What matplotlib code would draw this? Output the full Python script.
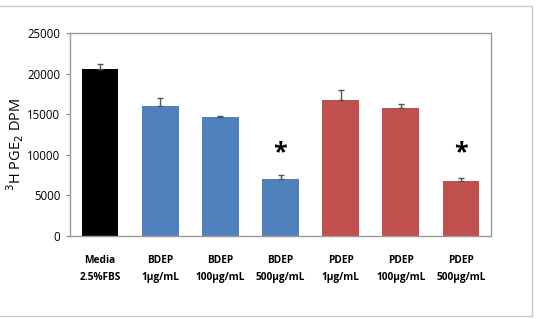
import matplotlib.pyplot as plt
from matplotlib.patches import Rectangle

labels = ["Media\n2.5%FBS", "BDEP\n1µg/mL", "BDEP\n100µg/mL", "BDEP\n500µg/mL",
          "PDEP\n1µg/mL", "PDEP\n100µg/mL", "PDEP\n500µg/mL"]
values = [20600, 16050, 14600, 7000, 16700, 15800, 6750]
errors = [550, 900, 120, 500, 1300, 500, 400]
colors = ["#000000", "#4F81BD", "#4F81BD", "#4F81BD", "#C0504D", "#C0504D", "#C0504D"]
stars = {3: 10300, 6: 10300}

plt.rcParams['font.family'] = ['Open Sans', 'DejaVu Sans']

fig = plt.figure(figsize=(5.37, 3.19), dpi=100)
ax = fig.add_axes([0.1304, 0.2602, 0.7839, 0.6364])

x = range(len(values))
ax.bar(x, values, width=0.61, color=colors, zorder=2)
ax.errorbar(x, values, yerr=[[0] * len(errors), errors], fmt="none",
            ecolor="#555555", elinewidth=1, capsize=2.5, capthick=1, zorder=3)
for i, y in stars.items():
    ax.text(i, y, "*", ha="center", va="center", fontsize=18, fontweight="bold")

ax.set_xlim(-0.5, len(values) - 0.5)
ax.set_ylim(0, 25000)
ax.set_yticks(range(0, 25001, 5000))
ax.set_xticks(list(x))
ax.set_xticklabels(labels, fontsize=7.3, fontweight="bold", linespacing=1.65)
ax.tick_params(axis="x", length=0, pad=14)
ax.tick_params(axis="y", labelsize=8.3, length=3, color="#888888", pad=4)
for s in ax.spines.values():
    s.set_color("#999999")
    s.set_linewidth(1)
ax.set_ylabel("$^3$H PGE$_2$ DPM", fontsize=10.5)
ax.yaxis.set_label_coords(-0.105, 0.45)

fig.patches.append(Rectangle((-0.01, 0.01), 1.0, 0.97, transform=fig.transFigure,
                             fill=False, edgecolor="#c8c8c8", linewidth=1))

fig.savefig("out.png", dpi=100)
